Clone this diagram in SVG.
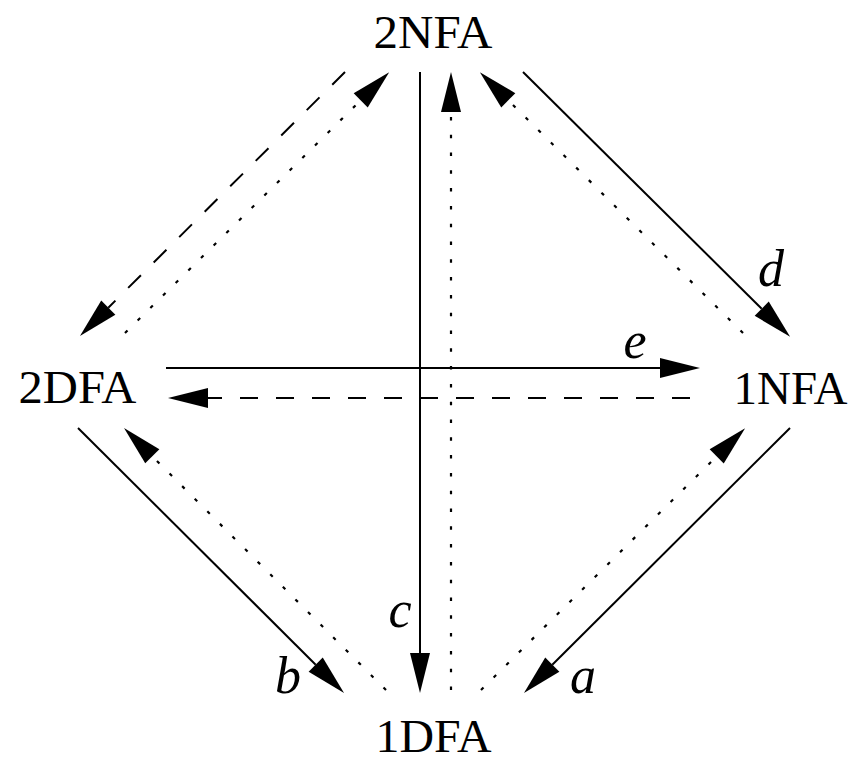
<svg xmlns="http://www.w3.org/2000/svg" width="852" height="763" viewBox="0 0 852 763">
<defs>
<marker id="ah" markerUnits="userSpaceOnUse" markerWidth="40" markerHeight="20" refX="0" refY="10" orient="auto" overflow="visible">
<path d="M0,0 L40,10 L0,20 z" fill="#000"/>
</marker>
<style>
.node{font-family:"Liberation Serif","DejaVu Serif",serif;font-size:47px;fill:#000;text-anchor:middle}
.lbl{font-family:"Liberation Serif","DejaVu Serif",serif;font-style:italic;font-size:52px;fill:#000;text-anchor:middle}
.e{fill:none;stroke:#000;stroke-width:2;marker-end:url(#ah)}
.dash{stroke-dasharray:18 18}
.dot{stroke-width:2.2;stroke-dasharray:3.5 14.3}
</style>
</defs>
<rect width="852" height="763" fill="#fff"/>
<g id="n2NFA"><text class="node" x="433" y="48" textLength="119" lengthAdjust="spacingAndGlyphs">2NFA</text></g>
<g id="n2DFA"><text class="node" x="77.5" y="403" textLength="118" lengthAdjust="spacingAndGlyphs">2DFA</text></g>
<g id="n1NFA"><text class="node" x="790.5" y="404" textLength="114" lengthAdjust="spacingAndGlyphs">1NFA</text></g>
<g id="n1DFA"><text class="node" x="433.5" y="752" textLength="116" lengthAdjust="spacingAndGlyphs">1DFA</text></g>
<g id="connectors">
<line class="e" x1="420" y1="72" x2="420" y2="653"/>
<line class="e dot" x1="451" y1="690" x2="451" y2="112"/>
<line class="e dash" x1="345" y1="72" x2="108.3" y2="307.7"/>
<line class="e dot" x1="125" y1="333" x2="360.7" y2="100.3"/>
<line class="e" x1="523" y1="72" x2="761.7" y2="308.7"/>
<line class="e dot" x1="743" y1="333" x2="508.3" y2="100.3"/>
<line class="e" x1="166" y1="368" x2="660" y2="368"/>
<line class="e dash" x1="690" y1="398" x2="208" y2="398"/>
<line class="e" x1="78" y1="428" x2="315.7" y2="664.7"/>
<line class="e dot" x1="386" y1="690" x2="152.3" y2="456.3"/>
<line class="e" x1="790" y1="428" x2="552.3" y2="664.7"/>
<line class="e dot" x1="481" y1="690" x2="716.7" y2="456.3"/>
<text class="lbl" x="771" y="286">d</text>
<text class="lbl" x="635" y="358">e</text>
<text class="lbl" x="400" y="627">c</text>
<text class="lbl" x="288" y="693">b</text>
<text class="lbl" x="583" y="693">a</text>
</g>
</svg>
